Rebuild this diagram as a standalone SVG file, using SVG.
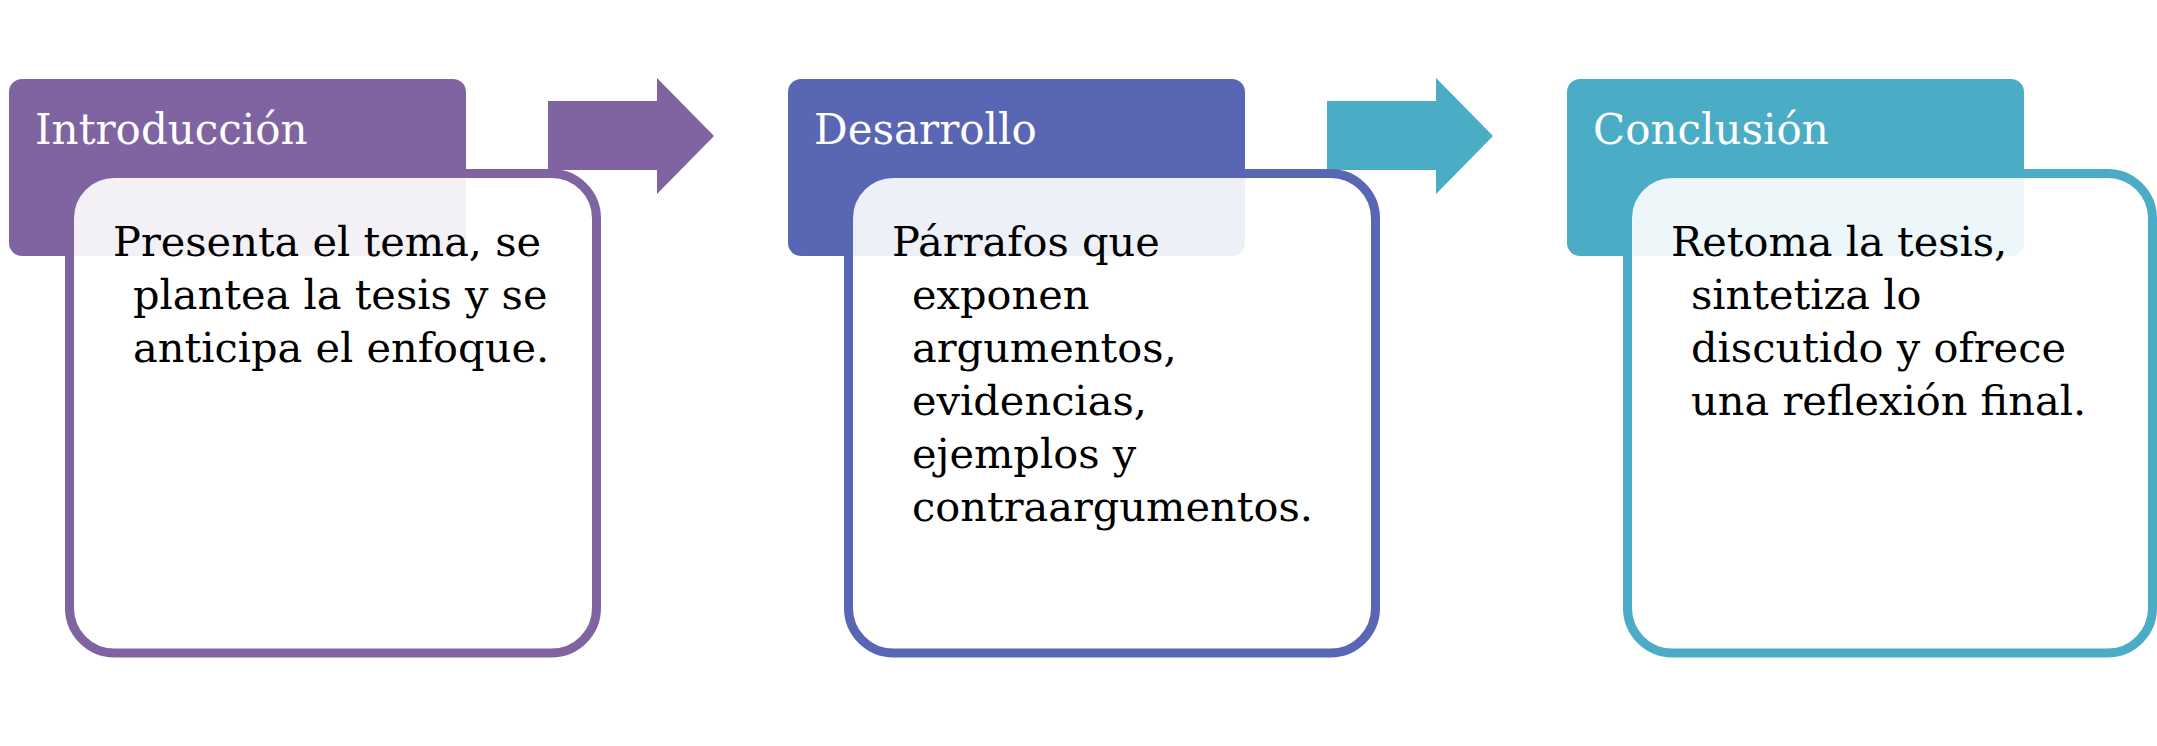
<svg xmlns="http://www.w3.org/2000/svg" width="2157" height="746" viewBox="0 0 2157 746">
<style>
.hdr{stroke:none}
.body{fill:#FFFFFF;fill-opacity:0.9;stroke-width:9}
.ht{font-family:"DejaVu Serif","Liberation Serif",serif;font-size:42px;fill:#FFFFFF}
.bt{font-family:"DejaVu Serif","Liberation Serif",serif;font-size:41.5px;fill:#000000}
.c1{fill:#8064A2}
.c2{fill:#5866B4}
.c3{fill:#4BACC6}
.s1{stroke:#8064A2}
.s2{stroke:#5866B4}
.s3{stroke:#4BACC6}
</style>
<rect width="2157" height="746" fill="#FFFFFF"/>
<g id="connectors">
  <polygon id="arrow1" class="c1" points="548,101 657,101 657,78 714,136 657,194 657,170 548,170"/>
  <polygon id="arrow2" class="c3" points="1327,101 1436,101 1436,78 1493,136 1436,194 1436,170 1327,170"/>
</g>
<g id="node-introduccion">
  <rect class="hdr c1" x="9" y="79" width="457" height="177" rx="13"/>
  <text class="ht" x="35" y="144">Introducción</text>
  <rect class="body s1" x="69.5" y="173.5" width="527" height="479.5" rx="45"/>
  <text class="bt" x="113" y="256">Presenta el tema, se</text>
  <text class="bt" x="133" y="309">plantea la tesis y se</text>
  <text class="bt" x="133" y="362">anticipa el enfoque.</text>
</g>
<g id="node-desarrollo">
  <rect class="hdr c2" x="788" y="79" width="457" height="177" rx="13"/>
  <text class="ht" x="814" y="144">Desarrollo</text>
  <rect class="body s2" x="848.5" y="173.5" width="527" height="479.5" rx="45"/>
  <text class="bt" x="892" y="256">Párrafos que</text>
  <text class="bt" x="912" y="309">exponen</text>
  <text class="bt" x="912" y="362">argumentos,</text>
  <text class="bt" x="912" y="415">evidencias,</text>
  <text class="bt" x="912" y="468">ejemplos y</text>
  <text class="bt" x="912" y="521">contraargumentos.</text>
</g>
<g id="node-conclusion">
  <rect class="hdr c3" x="1567" y="79" width="457" height="177" rx="13"/>
  <text class="ht" x="1593" y="144">Conclusión</text>
  <rect class="body s3" x="1627.5" y="173.5" width="525" height="479.5" rx="45"/>
  <text class="bt" x="1671" y="256">Retoma la tesis,</text>
  <text class="bt" x="1691" y="309">sintetiza lo</text>
  <text class="bt" x="1691" y="362">discutido y ofrece</text>
  <text class="bt" x="1691" y="415">una reflexión final.</text>
</g>
</svg>
